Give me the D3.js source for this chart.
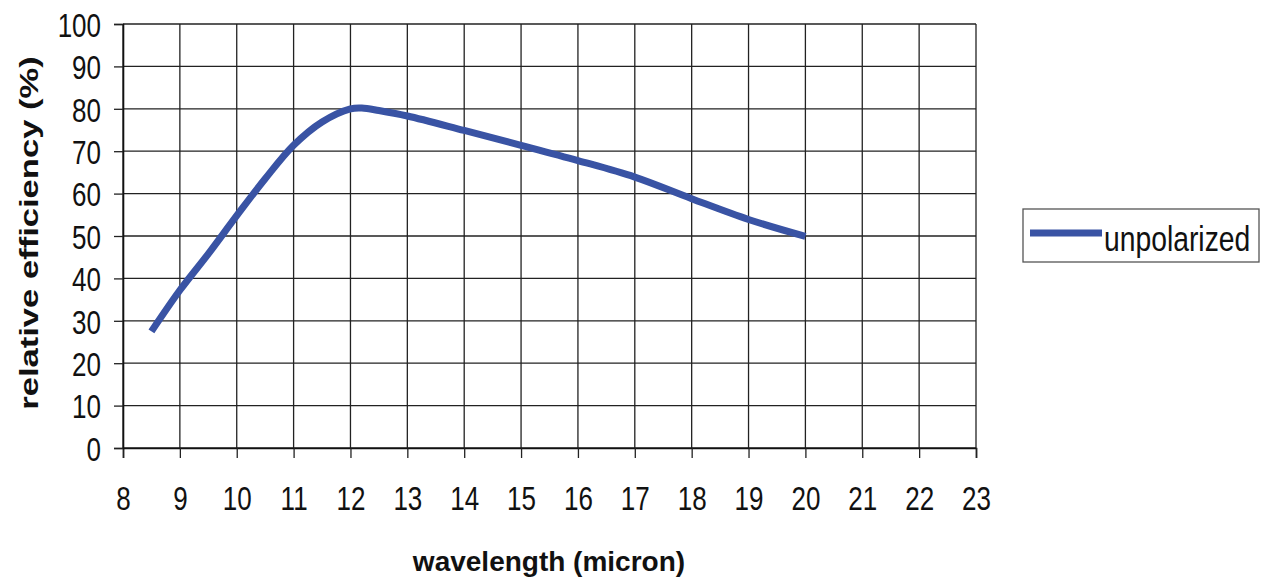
<!DOCTYPE html>
<html>
<head>
<meta charset="utf-8">
<script src="https://cdn.jsdelivr.net/npm/d3@7"></script>
<style>
  body { margin: 0; background: #fff; }
  text { font-family: "Liberation Sans", Arial, sans-serif; }
  /* the reference lettering is a bit taller than it is wide */
  .tall { transform-box: fill-box; transform-origin: 50% 50%; transform: scaleY(1.27); }
  .tall-legend { transform-box: fill-box; transform-origin: 50% 50%; transform: scaleY(1.22); }
</style>
</head>
<body>
<div class="chart"></div>
<script>
// wavelength (micron) and efficiency (%)
let wavelength = [8.5, 9, 9.5, 10, 10.5, 11, 11.5, 12, 12.2, 12.5, 13, 14, 15, 16, 17, 18, 19, 20];
let efficiency = [27.5, 37.2, 45.8, 54.8, 63.5, 71.4, 76.9, 80.0, 80.2, 79.6, 78.3, 74.9, 71.4, 67.8, 63.9, 58.8, 53.9, 49.9];
let xTicks = [8, 9, 10, 11, 12, 13, 14, 15, 16, 17, 18, 19, 20, 21, 22, 23];
let yTicks = [0, 10, 20, 30, 40, 50, 60, 70, 80, 90, 100];
let seriesName = "unpolarized";

let width = 1262, height = 578;
let plotLeft = 123, plotRight = 976, plotTop = 24, plotBottom = 448;

let svg = d3.select(".chart")
    .append("svg")
    .attr("width", width)
    .attr("height", height);

let xScale = d3.scaleLinear()
    .domain([8, 23])
    .range([plotLeft, plotRight]);

let yScale = d3.scaleLinear()
    .domain([0, 100])
    .range([plotBottom, plotTop]);

// grid
svg.append("g")
    .selectAll("line")
    .data(yTicks)
    .enter()
    .append("line")
    .attr("x1", plotLeft)
    .attr("x2", plotRight)
    .attr("y1", d => yScale(d))
    .attr("y2", d => yScale(d))
    .attr("stroke", "#222")
    .attr("stroke-width", 1.3);

svg.append("g")
    .selectAll("line")
    .data(xTicks)
    .enter()
    .append("line")
    .attr("x1", d => xScale(d))
    .attr("x2", d => xScale(d))
    .attr("y1", plotTop)
    .attr("y2", plotBottom)
    .attr("stroke", "#222")
    .attr("stroke-width", 1.3);

// axes
let x_axis = d3.axisBottom(xScale)
    .tickValues(xTicks)
    .tickSize(10)
    .tickPadding(31);

let y_axis = d3.axisLeft(yScale)
    .tickValues(yTicks)
    .tickSize(9)
    .tickPadding(13);

let gx = svg.append("g")
    .attr("transform", "translate(0," + plotBottom + ")")
    .call(x_axis);

let gy = svg.append("g")
    .attr("transform", "translate(" + plotLeft + ",0)")
    .call(y_axis);

[gx, gy].forEach(g => {
    g.select(".domain").attr("stroke", "#111").attr("stroke-width", 1.6);
    g.selectAll(".tick line").attr("stroke", "#222").attr("stroke-width", 1.3);
    g.selectAll(".tick text")
        .attr("class", "tall")
        .attr("fill", "#111")
        .style("font-size", "26px");
});
gy.selectAll(".tick text").attr("dy", "0.38em");

// axis titles
svg.append("text")
    .attr("x", 549)
    .attr("y", 571)
    .attr("text-anchor", "middle")
    .style("font-size", "28px")
    .style("font-weight", "bold")
    .attr("fill", "#111")
    .text("wavelength (micron)");

svg.append("text")
    .attr("transform", "translate(38,233) rotate(-90) scale(1.33,1)")
    .attr("text-anchor", "middle")
    .style("font-size", "26px")
    .style("font-weight", "bold")
    .attr("fill", "#111")
    .text("relative efficiency (%)");

// the curve
let line = d3.line()
    .x((d, i) => xScale(wavelength[i]))
    .y(d => yScale(d))
    .curve(d3.curveCatmullRom);

svg.append("path")
    .datum(efficiency)
    .attr("d", line)
    .attr("fill", "none")
    .attr("stroke", "#3953A4")
    .attr("stroke-width", 7);

// legend
let legend = svg.append("g");
legend.append("rect")
    .attr("x", 1023)
    .attr("y", 209)
    .attr("width", 236)
    .attr("height", 53)
    .attr("fill", "#fff")
    .attr("stroke", "#555")
    .attr("stroke-width", 1.3);
legend.append("line")
    .attr("x1", 1030)
    .attr("x2", 1102)
    .attr("y1", 233)
    .attr("y2", 233)
    .attr("stroke", "#3953A4")
    .attr("stroke-width", 7);
legend.append("text")
    .attr("class", "tall-legend")
    .attr("x", 1104)
    .attr("y", 249)
    .style("font-size", "28.3px")
    .attr("fill", "#111")
    .text(seriesName);
</script>
</body>
</html>
